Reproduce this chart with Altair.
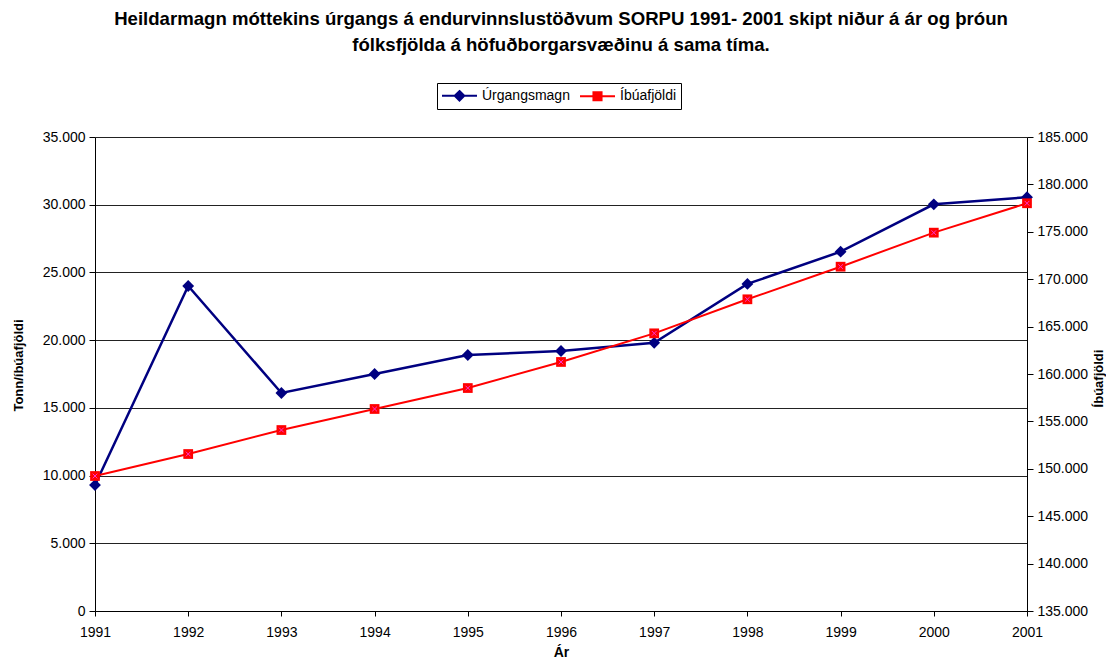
import altair as alt
import pandas as pd

years = [1991, 1992, 1993, 1994, 1995, 1996, 1997, 1998, 1999, 2000, 2001]
urgangsmagn = [9300, 24000, 16100, 17500, 18900, 19200, 19800, 24150, 26530, 30030, 30550]
ibuafjoldi = [149240, 151560, 154090, 156310, 158520, 161270, 164290, 167880, 171320, 174910, 178010]

series_names = ["Úrgangsmagn", "Íbúafjöldi"]
series_colors = ["#000080", "#ff0000"]
left_ticks = [0, 5000, 10000, 15000, 20000, 25000, 30000, 35000]
right_ticks = [135000, 140000, 145000, 150000, 155000, 160000, 165000, 170000, 175000, 180000, 185000]

title_lines = [
    "Heildarmagn móttekins úrgangs á endurvinnslustöðvum SORPU 1991- 2001 skipt niður á ár og þróun",
    "fólksfjölda á höfuðborgarsvæðinu á sama tíma.",
]

df = pd.DataFrame(
    {
        "year": years * 2,
        "series": [series_names[0]] * len(years) + [series_names[1]] * len(years),
        "value": urgangsmagn + ibuafjoldi,
    }
)

FONT = "Liberation Sans"
label_expr = "replace(format(datum.value, ','), ',', '.')"


def diamond(cx, r):
    return "M{c},-{r}L{a},0L{c},{r}L{b},0Z".format(c=cx, r=r, a=round(cx + r, 3), b=round(cx - r, 3))


def square(cx, r):
    return "M{l},-{r}L{h},-{r}L{h},{r}L{l},{r}Z".format(l=round(cx - r, 3), h=round(cx + r, 3), r=r)


# symbol box 15px wide (unit = 7.5px); line runs 35px from box left
CX = 1.333
blue_path = "M-1,0L3.667,0" + diamond(CX, 0.64) + diamond(CX, 0.42) + diamond(CX, 0.2)
red_path = "M-1,0L3.667,0" + square(CX, 0.54) + square(CX, 0.34) + square(CX, 0.13)

legend = alt.Legend(
    orient="none",
    legendX=342,
    legendY=-54,
    direction="horizontal",
    title=None,
    strokeColor="black",
    fillColor="white",
    padding=4,
    symbolSize=225,
    symbolStrokeWidth=2,
    symbolOpacity=1,
    labelFont=FONT,
    labelFontSize=14,
    labelColor="black",
    labelOffset=24,
    columnPadding=6,
)

color_enc = alt.Color(
    "series:N",
    scale=alt.Scale(domain=series_names, range=series_colors),
    legend=legend,
)
shape_enc = alt.Shape(
    "series:N",
    scale=alt.Scale(domain=series_names, range=[blue_path, red_path]),
    legend=legend,
)

x_enc = alt.X(
    "year:Q",
    scale=alt.Scale(domain=[1991, 2001], nice=False, zero=False),
    axis=alt.Axis(
        values=years,
        format="d",
        title="Ár",
        grid=False,
        titleFontWeight="bold",
        titleFontSize=14,
        titleFont=FONT,
        titleColor="black",
        titlePadding=6,
        labelFont=FONT,
        labelFontSize=14,
        labelColor="black",
        labelPadding=9,
        tickColor="black",
        tickSize=5,
        domainColor="black",
        labelFlush=False,
    ),
)

y_left = alt.Y(
    "value:Q",
    scale=alt.Scale(domain=[0, 35000], nice=False),
    axis=alt.Axis(
        values=left_ticks,
        labelExpr=label_expr,
        title="Tonn/íbúafjöldi",
        titleFontWeight="bold",
        titleFontSize=13,
        titleFont=FONT,
        titleColor="black",
        titleAngle=270,
        titleX=-77,
        titleY=228,
        titleAlign="center",
        titleBaseline="middle",
        labelFont=FONT,
        labelFontSize=14,
        labelColor="black",
        labelPadding=4,
        tickColor="black",
        tickSize=6,
        domainColor="black",
        grid=True,
        gridColor="#222222",
        gridWidth=1,
    ),
)

y_right = alt.Y(
    "value:Q",
    scale=alt.Scale(domain=[135000, 185000], nice=False, zero=False),
    axis=alt.Axis(
        orient="right",
        values=right_ticks,
        labelExpr=label_expr,
        title="Íbúafjöldi",
        titleAngle=270,
        titleX=71,
        titleY=241,
        titleAlign="center",
        titleBaseline="middle",
        titleFontWeight="bold",
        titleFontSize=13,
        titleFont=FONT,
        titleColor="black",
        labelFont=FONT,
        labelFontSize=14,
        labelColor="black",
        labelPadding=4,
        tickColor="black",
        tickSize=6,
        domainColor="black",
        grid=False,
    ),
)

base = alt.Chart(df)

left_data = base.transform_filter(alt.datum.series == series_names[0])
right_data = base.transform_filter(alt.datum.series == series_names[1])

left_line = left_data.mark_line(strokeWidth=2.5).encode(x=x_enc, y=y_left, color=color_enc)
left_pts = left_data.mark_point(shape="diamond", filled=True, size=140, opacity=1).encode(
    x=x_enc, y=y_left, color=color_enc
)
legend_layer = base.transform_filter("false").mark_point(filled=False, opacity=1, strokeWidth=2).encode(
    x=x_enc, y=y_left, color=color_enc, shape=shape_enc
)
left_layer = alt.layer(left_line, left_pts, legend_layer)

right_line = right_data.mark_line(strokeWidth=2).encode(x=x_enc, y=y_right, color=color_enc)
right_pts = right_data.mark_point(shape="square", filled=True, size=95, opacity=1).encode(
    x=x_enc, y=y_right, color=color_enc
)
right_x = right_data.mark_point(
    shape="M-0.6,-0.6L0.6,0.6M-0.6,0.6L0.6,-0.6", filled=False, size=60, stroke="#ff33cc", strokeWidth=1, opacity=1
).encode(x=x_enc, y=y_right)
right_layer = alt.layer(right_line, right_pts, right_x)

chart = (
    alt.layer(left_layer, right_layer)
    .resolve_scale(y="independent")
    .properties(
        width=932,
        height=474,
        autosize=alt.AutoSizeParams(type="none"),
        padding={"left": 87, "top": 129, "right": 79, "bottom": 49},
        title=alt.Title(
            text=title_lines,
            font=FONT,
            fontSize=18.6,
            fontWeight="bold",
            color="black",
            anchor="middle",
            lineHeight=26,
            offset=28,
        ),
        background="white",
    )
    .configure_view(stroke=None)
)

chart.save("out.html", embed_options={"renderer": "svg", "actions": False})
